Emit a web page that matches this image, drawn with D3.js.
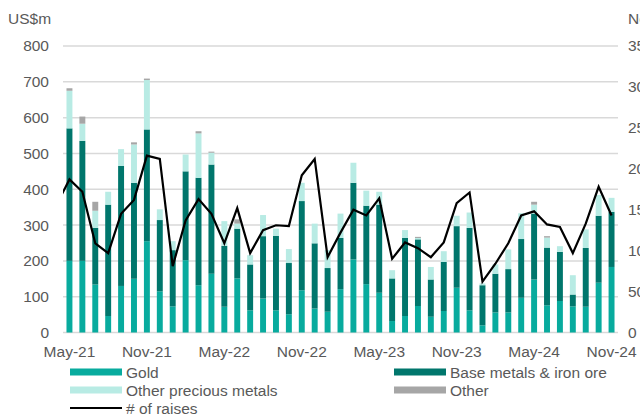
<!DOCTYPE html>
<html>
<head>
<meta charset="utf-8">
<script src="https://cdn.jsdelivr.net/npm/d3@7/dist/d3.min.js"></script>
<style>
  body { margin: 0; background: #fff; }
  text { font-family: Arial, "Liberation Sans", sans-serif; fill: #595959; }
</style>
</head>
<body>
<div id="chart"></div>
<script>
// 1. data
var months = ["May-21","Jun-21","Jul-21","Aug-21","Sep-21","Oct-21","Nov-21","Dec-21",
  "Jan-22","Feb-22","Mar-22","Apr-22","May-22","Jun-22","Jul-22","Aug-22","Sep-22","Oct-22","Nov-22","Dec-22",
  "Jan-23","Feb-23","Mar-23","Apr-23","May-23","Jun-23","Jul-23","Aug-23","Sep-23","Oct-23","Nov-23","Dec-23",
  "Jan-24","Feb-24","Mar-24","Apr-24","May-24","Jun-24","Jul-24","Aug-24","Sep-24","Oct-24","Nov-24"];
var gold       = [200,200,134,46,130,150,255,115, 73,202,132,164,72,151,62,95,62,51,118,67,
                  58,121,204,135,111,32,46,74,44,60,125,62, 20,56,56,97,148,76,88,73,72,139,183];
var baseMetals = [370,335,158,311,335,268,312,199, 157,248,300,305,170,139,128,174,208,143,249,182,
                  122,143,214,219,246,119,218,186,104,137,172,230, 112,108,121,164,184,161,137,33,164,187,154];
var otherPrec  = [105,48,48,36,47,107,138,30, 25,47,124,33,69,14,26,59,20,39,51,55,
                  50,68,56,42,36,23,22,4,35,30,29,43, 5,26,55,72,25,28,16,54,52,58,39];
var other      = [7,20,25,0,0,6,4,0, 0,0,6,3,0,12,0,0,0,0,0,0,
                  0,0,0,0,0,0,0,3,0,0,0,0, 0,0,0,0,8,4,0,0,0,0,0];
var raises     = [187,172,109,97,145,162,216,212, 81,137,163,145,109,152,97,125,131,130,192,212,
                  92,122,150,143,164,90,110,103,92,110,158,171, 62,84,109,143,148,132,129,97,133,178,143];
var raisesPrev = 156; // Apr-21, mostly off the left edge

var leftTicks  = [0,100,200,300,400,500,600,700,800];
var rightTicks = [0,50,100,150,200,250,300,350];
var xTickLabels = ["May-21","Nov-21","May-22","Nov-22","May-23","Nov-23","May-24","Nov-24"];

var seriesKeys   = ["gold","baseMetals","otherPrec","other"];
var seriesNames  = {gold:"Gold", baseMetals:"Base metals & iron ore", otherPrec:"Other precious metals", other:"Other"};
var seriesColors = {gold:"#08ab9e", baseMetals:"#00766c", otherPrec:"#b8ebe4", other:"#a6a6a6"};

var table = months.map(function(m, i) {
  return {month: m, gold: gold[i], baseMetals: baseMetals[i], otherPrec: otherPrec[i], other: other[i]};
});

// 2. layout
var width = 640, height = 414;
var plot = {left: 63, right: 618, top: 46, bottom: 332.5};
var fontSize = "15.5px";

var svg = d3.select("#chart").append("svg")
  .attr("width", width)
  .attr("height", height);

var x = d3.scaleBand()
  .domain(months)
  .range([plot.left, plot.right])
  .paddingInner(0.54)
  .paddingOuter(0.27);

var y = d3.scaleLinear().domain([0, 800]).range([plot.bottom, plot.top]);
var y2 = d3.scaleLinear().domain([0, 350]).range([plot.bottom, plot.top]);

// gridlines
svg.append("g").selectAll("line")
  .data(leftTicks)
  .enter().append("line")
  .attr("x1", plot.left).attr("x2", plot.right)
  .attr("y1", function(d) { return y(d); })
  .attr("y2", function(d) { return y(d); })
  .attr("stroke", "#d9d9d9")
  .attr("stroke-width", 1.5);

// 3. stacked bars
var stacked = d3.stack().keys(seriesKeys)(table);

svg.append("g").selectAll("g")
  .data(stacked)
  .enter().append("g")
  .attr("fill", function(d) { return seriesColors[d.key]; })
  .selectAll("rect")
  .data(function(d) { return d; })
  .enter().append("rect")
  .attr("x", function(d) { return x(d.data.month); })
  .attr("width", x.bandwidth())
  .attr("y", function(d) { return y(d[1]); })
  .attr("height", function(d) { return y(d[0]) - y(d[1]); });

// 4. line (# of raises), on the right axis
svg.append("clipPath").attr("id", "plotclip")
  .append("rect")
  .attr("x", plot.left).attr("y", 0)
  .attr("width", plot.right - plot.left).attr("height", plot.bottom);

var linePts = [[x(months[0]) + x.bandwidth() / 2 - x.step(), y2(raisesPrev)]];
months.forEach(function(m, i) {
  linePts.push([x(m) + x.bandwidth() / 2, y2(raises[i])]);
});

svg.append("path")
  .attr("clip-path", "url(#plotclip)")
  .attr("d", d3.line()(linePts))
  .attr("fill", "none")
  .attr("stroke", "#000")
  .attr("stroke-width", 2.2)
  .attr("stroke-linejoin", "miter");

// 5. axes
var xAxis = svg.append("g")
  .attr("transform", "translate(0," + plot.bottom + ")")
  .call(d3.axisBottom(x).tickValues(xTickLabels).tickSize(0).tickPadding(13));
xAxis.select(".domain").remove();
xAxis.selectAll("text").style("font-size", fontSize).style("fill", "#595959");

var yAxis = svg.append("g")
  .attr("transform", "translate(" + plot.left + ",0)")
  .call(d3.axisLeft(y).tickValues(leftTicks).tickSize(0).tickPadding(14));
yAxis.select(".domain").remove();
yAxis.selectAll("text").style("font-size", fontSize).style("fill", "#595959");

var y2Axis = svg.append("g")
  .attr("transform", "translate(" + plot.right + ",0)")
  .call(d3.axisRight(y2).tickValues(rightTicks).tickSize(0).tickPadding(10));
y2Axis.select(".domain").remove();
y2Axis.selectAll("text").style("font-size", fontSize).style("fill", "#595959");

svg.append("text")
  .attr("x", 8).attr("y", 24)
  .style("font-size", fontSize)
  .text("US$m");

svg.append("text")
  .attr("x", 628).attr("y", 24)
  .style("font-size", fontSize)
  .text("No. of raises");

// 6. legend
var legendItems = [
  {key: "gold",       col: 0, row: 0},
  {key: "baseMetals", col: 1, row: 0},
  {key: "otherPrec",  col: 0, row: 1},
  {key: "other",      col: 1, row: 1}
];
var legendX = [70, 394], legendY = [372, 390];

var legend = svg.append("g");
legendItems.forEach(function(it) {
  var lx = legendX[it.col], ly = legendY[it.row];
  legend.append("rect")
    .attr("x", lx).attr("y", ly - 3.5)
    .attr("width", 52).attr("height", 7)
    .attr("fill", seriesColors[it.key]);
  legend.append("text")
    .attr("x", lx + 56).attr("y", ly + 5.5)
    .style("font-size", fontSize)
    .text(seriesNames[it.key]);
});
legend.append("line")
  .attr("x1", 70).attr("x2", 122)
  .attr("y1", 408).attr("y2", 408)
  .attr("stroke", "#000").attr("stroke-width", 2.2);
legend.append("text")
  .attr("x", 126).attr("y", 413.5)
  .style("font-size", fontSize)
  .text("# of raises");
</script>
</body>
</html>
